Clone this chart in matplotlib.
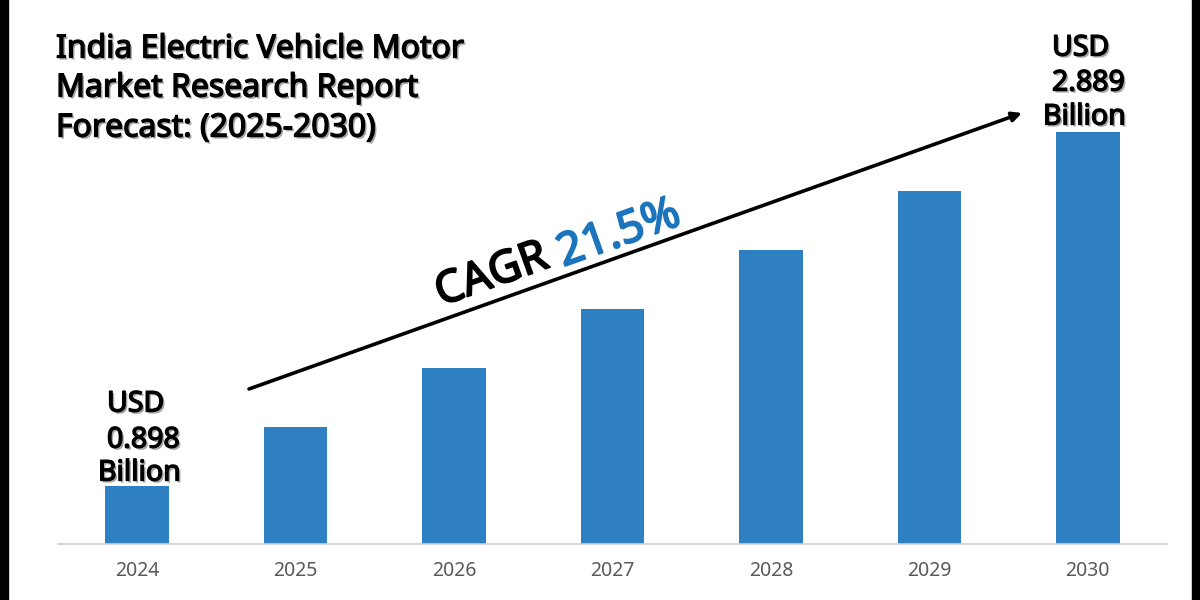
import matplotlib
matplotlib.use("Agg")
import matplotlib.pyplot as plt
import matplotlib.patheffects as pe
from matplotlib.patches import Rectangle

years = ["2024", "2025", "2026", "2027", "2028", "2029", "2030"]
# bar heights, the bars are not drawn to the labelled values
bar_heights = [58, 117, 176, 235, 294, 353, 412]
title_lines = ["India Electric Vehicle Motor", "Market Research Report", "Forecast: (2025-2030)"]
start_label = ["USD", "0.898", "Billion"]
end_label = ["USD", "2.889", "Billion"]

W, H = 1200, 600
BLUE = "#2e80c2"

plt.rcParams["font.family"] = ["Noto Sans", "DejaVu Sans"]

fig = plt.figure(figsize=(12, 6), dpi=100, facecolor="white")
ax = fig.add_axes([58 / W, 1 - 544 / H, 1109 / W, 544 / H])
ax.patch.set_alpha(0)

ax.bar(range(len(years)), bar_heights, width=0.402, color=BLUE)
ax.set_xlim(-0.5, 6.5)
ax.set_ylim(0, 544)
ax.set_xticks(range(len(years)))
ax.set_xticklabels(years, fontsize=14, color="#595959")
ax.set_yticks([])
ax.tick_params(axis="x", length=0, pad=12)
for s in ["top", "left", "right"]:
    ax.spines[s].set_visible(False)
ax.spines["bottom"].set_color("#d0d0d0")
ax.spines["bottom"].set_linewidth(1.2)


def px(x, y):
    return x / W, 1 - y / H


# the regular weight is thickened with a stroke, the family has no bold face here
def bold(color, lw=1.0, with_shadow=True):
    fx = []
    if with_shadow:
        fx.append(pe.withSimplePatchShadow(offset=(1.5, -1.5), alpha=0.35))
    fx.append(pe.withStroke(linewidth=lw, foreground=color))
    return fx


def label(x, y, s, size=22):
    t = fig.text(*px(x, y), s, fontsize=size, ha="left", va="center", color="black")
    t.set_path_effects(bold("black"))
    return t


# title
for s, y in zip(title_lines, [49, 88, 128]):
    label(56, y, s, size=23)

# end labels
for s, x, y in zip(start_label, [107, 107, 98], [404, 440, 473]):
    label(x, y, s, size=20.5)
for s, x, y in zip(end_label, [1052, 1052, 1043], [48, 83, 117]):
    label(x, y, s, size=20.5)

# trend arrow
ax.annotate("", xy=px(1022, 113), xytext=px(249, 389), xycoords="figure fraction",
            textcoords="figure fraction",
            arrowprops=dict(arrowstyle="-|>", color="black", lw=2.6, mutation_scale=14,
                            shrinkA=0, shrinkB=0))

cagr = fig.text(*px(492, 276), "CAGR", fontsize=32, rotation=19.6,
                rotation_mode="anchor", ha="center", va="center", color="black")
cagr.set_path_effects(bold("black", lw=1.4, with_shadow=False))
rate = fig.text(*px(619, 234), "21.5%", fontsize=32.5, rotation=19.6,
                rotation_mode="anchor", ha="center", va="center", color="#1c75bc")
rate.set_path_effects(bold("#1c75bc", lw=1.4, with_shadow=False))

# black edges of the picture
fig.add_artist(Rectangle((0, 0), 8 / W, 1, transform=fig.transFigure, color="black"))
fig.add_artist(Rectangle((1192 / W, 0), 8 / W, 1, transform=fig.transFigure, color="black"))

fig.savefig("out.png", dpi=100)
